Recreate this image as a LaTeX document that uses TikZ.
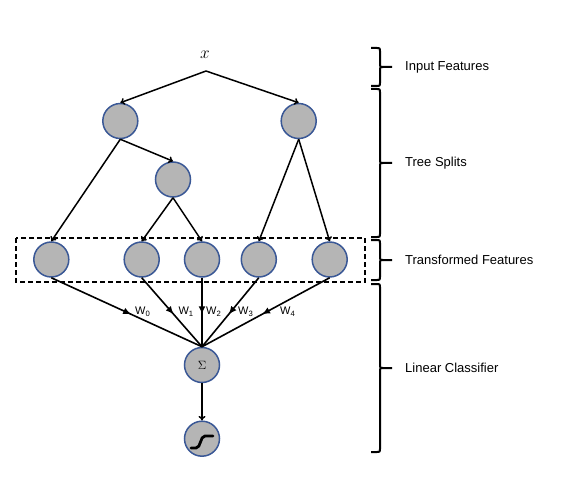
\documentclass[tikz,border=0pt]{standalone}
\usepackage{fontspec}
\setsansfont{Liberation Sans}
\usetikzlibrary{arrows.meta,decorations.markings}
\definecolor{nodefill}{RGB}{181,181,181}
\definecolor{nodeline}{RGB}{58,88,150}
\newcommand{\sidebrace}[3]{%
  \draw[bracestyle] (371,#1) -- (377,#1) .. controls (380,#1) .. (380,#1+3) -- (380,#2-3) .. controls (380,#2) .. (383,#2) -- (392,#2);
  \draw[bracestyle] (383,#2) .. controls (380,#2) .. (380,#2+3) -- (380,#3-3) .. controls (380,#3) .. (377,#3) -- (371,#3);
}
\tikzset{
  unit/.style={circle, draw=nodeline, fill=nodefill, line width=1.5pt, minimum size=35pt, inner sep=0pt},
  treeedge/.style={line width=1.5pt, -{To[length=4.5pt,width=7pt]}},
  weight/.style={line width=1.6pt, postaction={decorate},
    decoration={markings, mark=at position 0.53 with {\arrow{Latex[length=8pt,width=7pt]}}}},
  wlab/.style={font=\sffamily\fontsize{11}{13}\selectfont, anchor=base west, inner sep=0pt},
  bracestyle/.style={line width=2pt, line join=round},
  blab/.style={font=\sffamily\fontsize{13}{15}\selectfont, anchor=west, inner sep=0pt},
  featbox/.style={draw, dash pattern=on 5pt off 3pt, line width=1.5pt},
  sigline/.style={line width=2.8pt, line cap=round}
}
\begin{document}
\begin{tikzpicture}[x=1pt, y=-1pt]
\useasboundingbox (0,0) rectangle (568,484);
% input
\node[inner sep=0pt, font=\fontsize{16}{18}\selectfont] (xin) at (205,55) {$x$};
\coordinate (apex) at (206,71);
% tree nodes
\node[unit] (n1) at (120.3,121) {};
\node[unit] (n2) at (298.7,121) {};
\node[unit] (n3) at (173,179.5) {};
% leaves
\node[unit] (l1) at (51.3,259.5) {};
\node[unit] (l2) at (141.7,259.5) {};
\node[unit] (l3) at (202,259.5) {};
\node[unit] (l4) at (258.8,259.5) {};
\node[unit] (l5) at (329.7,259.5) {};
% classifier
\node[unit, font=\fontsize{13}{15}\selectfont] (sum) at (202,365) {$\Sigma$};
\node[unit] (sg) at (202,438.7) {};
\draw[sigline] (191,448) -- (196,448) .. controls (201,448) and (200,436) .. (205,436) -- (213,436);
% dashed box
\draw[featbox] (16,238) rectangle (365,282);
% tree edges
\draw[treeedge] (apex) -- (n1.north);
\draw[treeedge] (apex) -- (n2.north);
\draw[treeedge] (n1.south) -- (l1.north);
\draw[treeedge] (n1.south) -- (n3.north);
\draw[treeedge] (n3.south) -- (l2.north);
\draw[treeedge] (n3.south) -- (l3.north);
\draw[treeedge] (n2.south) -- (l4.north);
\draw[treeedge] (n2.south) -- (l5.north);
% weight edges
\draw[weight] (l1.south) -- (sum.north);
\draw[weight] (l2.south) -- (sum.north);
\draw[weight] (l3.south) -- (sum.north);
\draw[weight] (l4.south) -- (sum.north);
\draw[weight] (l5.south) -- (sum.north);
\draw[treeedge] (sum.south) -- (sg.north);
% weight labels
\node[wlab] (w0) at (135,314.5) {W\textsubscript{0}};
\node[wlab] (w1) at (178.3,314.5) {W\textsubscript{1}};
\node[wlab] (w2) at (206,314.5) {W\textsubscript{2}};
\node[wlab] (w3) at (238,314.5) {W\textsubscript{3}};
\node[wlab] (w4) at (280,314.5) {W\textsubscript{4}};
% braces
\sidebrace{48}{67}{86}
\sidebrace{89}{163}{237}
\sidebrace{240}{260}{280}
\sidebrace{284}{368}{452}
\node[blab] (t1) at (405,67) {Input Features};
\node[blab] (t2) at (405,163) {Tree Splits};
\node[blab] (t3) at (405,260) {Transformed Features};
\node[blab] (t4) at (405,368) {Linear Classifier};
\end{tikzpicture}
\end{document}
